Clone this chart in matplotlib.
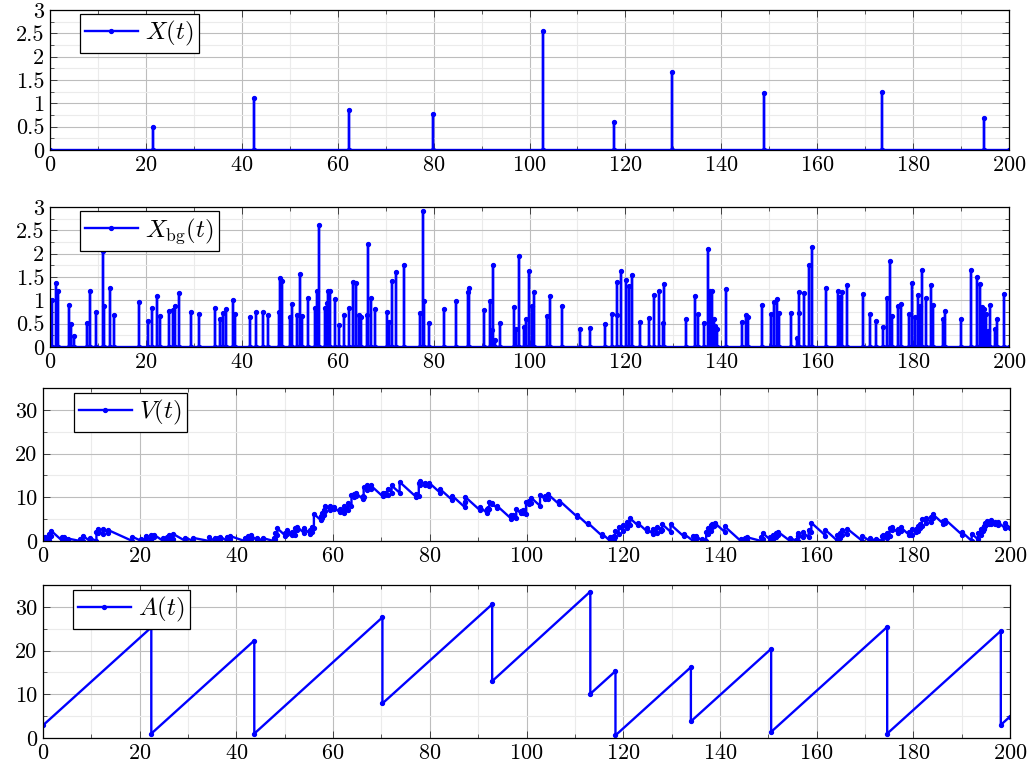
import matplotlib
matplotlib.use("Agg")
import matplotlib.pyplot as plt
from matplotlib.ticker import MultipleLocator, FixedLocator
import numpy as np

plt.rcParams['font.family'] = 'serif'
plt.rcParams['font.serif'] = ['cmr10', 'DejaVu Serif']
plt.rcParams['mathtext.fontset'] = 'cm'
plt.rcParams['axes.formatter.use_mathtext'] = True

# ---------------- data ----------------
# X(t): update arrivals (time, size)
x_times = [21.4, 42.5, 62.3, 79.9, 102.8, 117.6, 129.8, 148.9, 173.5, 194.7]
x_sizes = [0.49, 1.11, 0.85, 0.77, 2.54, 0.59, 1.67, 1.22, 1.25, 0.69]

# X_bg(t): background arrivals (time, size)
xbg_times = [0.45, 1.2, 1.75, 3.96, 4.4, 5.07, 7.72, 8.27, 9.66, 11.05, 11.3, 12.44, 13.35,
             18.49, 20.37, 21.27, 22.38, 22.87, 24.89, 25.58, 26.07, 26.83, 29.47, 31.07,
             34.38, 35.48, 36.12, 36.7, 38.1, 38.68, 41.7, 43.05, 44.35, 45.4, 47.72, 48.02,
             48.48, 50.12, 50.47, 51.58, 52.21, 52.62, 53.88, 55.2, 55.6, 56.03, 57.42, 57.7,
             58.04, 58.4, 59.37, 60.2, 61.38, 62.28, 63.12, 63.8, 64.37, 64.79, 66.1, 66.32,
             66.94, 67.78, 70.28, 70.7, 71.26, 72.09, 73.76, 77.16, 77.72, 78.07, 79.11, 82.17,
             84.6, 87.24, 87.3, 90.44, 91.83, 92.1, 92.3, 92.8, 93.92, 96.84, 97.25, 97.88,
             98.78, 99.2, 99.9, 100.45, 100.9, 103.75, 104.35, 106.78, 110.46, 112.64, 115.68,
             117.2, 118.2, 118.35, 119.07, 120.03, 120.8, 121.45, 123.04, 124.9, 126.06, 126.94,
             127.77, 128.06, 132.55, 134.5, 135.07, 136.32, 137.16, 137.57, 138.06, 138.4,
             138.76, 139.04, 140.98, 144.32, 145.15, 145.64, 148.56, 150.43, 150.92, 151.54,
             151.96, 154.53, 155.78, 156.13, 156.2, 157.18, 158.36, 158.91, 161.83, 164.27,
             164.8, 165.2, 166.29, 169.48, 171.01, 172.26, 173.79, 174.49, 175.11, 175.6,
             176.85, 177.4, 179.21, 179.76, 180.46, 181.0, 181.4, 181.79, 182.7, 183.66,
             184.08, 186.17, 186.65, 190.06, 192.07, 193.4, 193.9, 194.4, 194.8, 195.2, 195.7,
             196.1, 197.0, 197.6, 198.96]
xbg_sizes = [1.0, 1.38, 1.2, 0.89, 0.49, 0.23, 0.52, 1.21, 0.74, 2.06, 0.87, 1.26, 0.68,
             0.96, 0.56, 0.84, 1.09, 0.66, 0.78, 0.79, 0.87, 1.16, 0.74, 0.71,
             0.84, 0.61, 0.73, 0.82, 1.01, 0.71, 0.65, 0.75, 0.76, 0.68, 0.75, 1.48,
             1.41, 0.64, 0.92, 0.68, 1.56, 0.66, 1.06, 0.84, 1.19, 2.61, 0.84, 0.94,
             1.2, 1.21, 1.03, 0.48, 0.69, 0.84, 1.4, 1.37, 0.68, 0.64, 0.68, 2.21,
             1.05, 0.82, 0.76, 0.53, 1.41, 1.61, 1.75, 0.73, 2.92, 0.98, 0.52, 0.82,
             0.98, 1.17, 1.27, 0.79, 0.98, 0.36, 1.75, 0.14, 0.51, 0.86, 0.39, 1.96,
             0.43, 0.6, 1.63, 0.88, 1.17, 0.66, 1.1, 0.88, 0.39, 0.4, 0.5,
             0.7, 0.68, 1.39, 1.63, 1.44, 1.31, 1.54, 0.53, 0.63, 1.11, 1.19,
             0.51, 1.34, 0.6, 1.1, 0.7, 0.52, 2.09, 1.19, 1.2, 0.6,
             0.44, 0.39, 1.25, 0.54, 0.69, 0.65, 0.91, 0.7, 0.97, 1.02,
             0.72, 0.73, 0.2, 1.17, 0.72, 1.15, 1.76, 2.15, 1.27, 1.2,
             1.08, 1.17, 1.33, 1.13, 0.71, 0.56, 0.42, 1.04, 1.85, 0.67,
             0.88, 0.92, 0.7, 1.37, 0.64, 1.12, 0.87, 1.65, 1.05, 1.33,
             0.89, 0.59, 0.77, 0.6, 1.65, 1.51, 1.35, 0.86, 0.81, 0.7, 0.34,
             0.9, 0.38, 0.59, 1.14]

# V(t): workload, sampled just before / just after every arrival
v_times = [0.45, 1.2, 1.75, 3.96, 4.4, 5.07, 7.72, 8.27, 9.66, 11.05, 11.3, 12.44, 13.35,
           18.49, 20.37, 21.27, 21.4, 22.38, 22.87, 24.89, 25.58, 26.07, 26.83, 29.47, 31.07,
           34.38, 35.48, 36.12, 36.7, 38.1, 38.68, 41.7, 42.5, 43.05, 44.35, 45.4, 47.72, 48.02,
           48.48, 50.12, 50.47, 51.58, 52.21, 52.62, 53.88, 55.2, 55.6, 56.03, 57.42, 57.7,
           58.04, 58.4, 59.37, 60.2, 61.38, 62.28, 62.3, 63.12, 63.8, 64.37, 64.79, 66.1, 66.32,
           66.94, 67.78, 70.28, 70.7, 71.26, 72.09, 73.76, 77.16, 77.72, 78.07, 79.11, 79.9,
           82.17, 84.6, 87.24, 87.3, 90.44, 91.83, 92.1, 92.3, 92.8, 93.92, 96.84, 97.25, 97.88,
           98.78, 99.2, 99.9, 100.45, 100.9, 102.8, 103.75, 104.35, 106.78, 110.46, 112.64,
           115.68, 117.2, 117.6, 118.2, 118.35, 119.07, 120.03, 120.8, 121.45, 123.04, 124.9,
           126.06, 126.94, 127.77, 128.06, 129.8, 132.55, 134.5, 135.07, 136.32, 137.16,
           137.57, 138.06, 138.4, 138.76, 139.04, 140.98, 144.32, 145.15, 145.64, 148.56,
           148.9, 150.43, 150.92, 151.54, 151.96, 154.53, 155.78, 156.13, 156.2, 157.18,
           158.36, 158.91, 161.83, 164.27, 164.8, 165.2, 166.29, 169.48, 171.01, 172.26,
           173.5, 173.79, 174.49, 175.11, 175.6, 176.85, 177.4, 179.21, 179.76, 180.46,
           181.0, 181.4, 181.79, 182.7, 183.66, 184.08, 186.17, 186.65, 190.06, 192.07,
           193.4, 193.9, 194.4, 194.7, 194.8, 195.2, 195.7, 196.1, 197.0, 197.6, 198.96]
v_before = [0, 0.25, 1.08, 0.07, 0.52, 0.34, 0, 0, 0, 0, 1.81, 1.54, 1.89,
            0, 0, 0, 0.71, 0.22, 0.82, 0, 0.09, 0.39, 0.50, 0, 0,
            0, 0, 0, 0.15, 0, 0.43, 0, 0, 0.56, 0.01, 0, 0, 0.45,
            1.47, 1.24, 1.53, 1.34, 1.39, 2.54, 1.94, 1.68, 2.12, 2.88, 4.81, 5.37,
            5.97, 6.81, 7.05, 7.25, 6.55, 6.34, 7.16, 7.19, 7.91, 10.03, 10.29, 9.62, 10.08,
            11.67, 11.88, 10.20, 10.54, 10.51, 11.09, 11.03, 10.10, 10.27, 12.84, 12.78, 12.51,
            11.01, 9.40, 7.74, 8.85, 6.98, 6.38, 7.09, 7.25, 8.5, 7.52, 5.11, 5.56, 5.32,
            6.38, 6.39, 6.29, 8.35, 8.78, 8.05, 9.64, 9.70, 8.37, 5.57, 3.78,
            1.14, 0.12, 0.42, 0.41, 0.94, 1.61, 2.28, 2.95, 3.61, 3.56, 2.23,
            1.70, 1.93, 2.29, 2.51, 2.11, 1.03, 0, 0.53, 0, 0,
            1.68, 2.38, 3.24, 3.48, 3.64, 2.09, 0, 0, 0.20, 0,
            0.57, 0.26, 0.47, 0.82, 1.42, 0, 0, 0, 1.10, 0.84,
            0.81, 2.02, 1.25, 0.08, 0.75, 1.43, 1.51, 0, 0, 0,
            0, 0.96, 0.68, 1.10, 2.46, 1.88, 2.21, 1.32, 1.47, 2.14,
            2.24, 2.96, 3.44, 4.18, 4.27, 5.18, 3.98, 4.09, 1.45, 0.04,
            0.36, 1.37, 2.22, 2.78, 3.37, 3.78, 3.98, 3.92, 3.92, 3.70, 2.93]
v_after = [1.0, 1.63, 2.28, 0.96, 1.01, 0.57, 0.52, 1.21, 0.74, 2.06, 2.68, 2.80, 2.57,
           0.96, 0.56, 0.84, 1.20, 1.31, 1.48, 0.78, 0.88, 1.26, 1.66, 0.74, 0.71,
           0.84, 0.61, 0.73, 0.97, 1.01, 1.14, 0.65, 1.11, 1.31, 0.77, 0.68, 0.75, 1.93,
           2.88, 1.88, 2.45, 2.02, 2.95, 3.20, 3.00, 2.52, 3.31, 6.2, 5.65, 6.31,
           7.17, 8.02, 8.08, 7.73, 7.24, 7.18, 8.01, 8.59, 10.6, 10.71, 10.93, 10.30, 12.29,
           12.72, 12.70, 10.96, 11.07, 11.92, 12.70, 13.5, 10.83, 13.19, 13.82, 13.30, 13.28,
           11.83, 10.38, 8.91, 10.12, 7.77, 7.36, 7.45, 9.0, 8.64, 8.03, 5.97, 5.95, 7.28,
           6.81, 6.99, 8.9, 9.23, 9.95, 10.59, 10.30, 10.80, 9.25, 5.96, 4.18,
           1.64, 0.82, 1.01, 1.09, 2.33, 3.24, 3.72, 4.26, 5.15, 4.09, 2.86,
           2.81, 3.12, 2.80, 3.85, 3.78, 1.63, 1.1, 1.23, 0.52, 2.09,
           2.87, 3.58, 3.84, 3.92, 4.03, 3.34, 0.54, 0.69, 0.85, 0.91,
           1.79, 0.96, 1.44, 1.84, 2.14, 0.73, 0.2, 1.17, 1.82, 1.99,
           2.57, 4.17, 2.52, 1.28, 1.83, 2.60, 2.84, 1.13, 0.71, 0.56,
           1.25, 1.38, 1.72, 2.95, 3.13, 2.76, 3.13, 2.02, 2.84, 2.78,
           3.36, 3.83, 5.09, 5.23, 5.60, 6.07, 4.57, 4.86, 2.05, 1.69,
           1.87, 2.72, 3.08, 3.47, 4.18, 4.48, 4.32, 4.82, 4.30, 4.29, 4.07]
v_start = 0.0
v_end = 3.03

# A(t): age process vertices
a_times = [0, 22.4, 22.4, 43.7, 43.7, 70.2, 70.2, 92.9, 92.9, 113.2, 113.2, 118.4, 118.4,
           134.0, 134.0, 150.6, 150.6, 174.6, 174.6, 198.1, 198.1, 200.0]
a_values = [2.9, 25.3, 1.0, 22.3, 1.0, 27.6, 7.9, 30.6, 13.0, 33.5, 10.1, 15.3, 0.6,
            16.2, 3.8, 20.4, 1.4, 25.4, 1.0, 24.5, 3.0, 4.9]

for a, b in [(xbg_times, xbg_sizes), (v_times, v_before), (v_times, v_after), (a_times, a_values), (x_times, x_sizes)]:
    if len(a) != len(b):
        raise ValueError(f"length mismatch {len(a)} vs {len(b)}")

# ---------------- helpers ----------------
BLUE = '#0000ff'
W, H = 1033, 773
fig = plt.figure(figsize=(W / 100, H / 100), dpi=100)


def add_ax(l, t, r, b):
    return fig.add_axes([l / W, 1 - b / H, (r - l) / W, (b - t) / H])


def stems(times, sizes):
    xs, ys = [0.0], [0.0]
    for t, s in zip(times, sizes):
        xs += [t, t, t]
        ys += [0.0, s, 0.0]
    xs.append(200.0)
    ys.append(0.0)
    return xs, ys


def style(ax, ymax, ymajor, yminor, ylabels):
    ax.set_xlim(0, 200)
    ax.set_ylim(0, ymax)
    ax.xaxis.set_major_locator(MultipleLocator(20))
    ax.xaxis.set_minor_locator(MultipleLocator(10))
    ax.yaxis.set_major_locator(FixedLocator(ymajor))
    ax.yaxis.set_minor_locator(MultipleLocator(yminor))
    ax.set_yticklabels(ylabels)
    ax.grid(which='major', color='#bdbdbd', lw=0.8)
    ax.grid(which='minor', color='#ebebeb', lw=0.8)
    ax.set_axisbelow(True)
    ax.tick_params(which='both', direction='in', top=True, right=True,
                   labelsize=16, pad=4, color='#404040')
    ax.tick_params(which='major', length=5, width=0.7)
    ax.tick_params(which='minor', length=3, width=0.6)
    for sp in ax.spines.values():
        sp.set_color('black')
        sp.set_linewidth(0.9)


def legend(ax, line, text, dx, dy, wpx, hpx):
    leg = ax.legend([line], [text], loc='upper left',
                    bbox_to_anchor=(dx / wpx, 1 - dy / hpx), borderaxespad=0,
                    fancybox=False, edgecolor='black', framealpha=1, fontsize=18,
                    handlelength=2.1, handletextpad=0.3, borderpad=0.2, numpoints=1)
    leg.get_frame().set_linewidth(0.9)


line_kw = dict(color=BLUE, lw=1.7, marker='o', markersize=2.8)

# Panel 1: X(t)
ax1 = add_ax(50, 10, 1009, 150)
xs, ys = stems(x_times, x_sizes)
l1, = ax1.plot(xs, ys, **line_kw)
style(ax1, 3, [0, 0.5, 1, 1.5, 2, 2.5, 3], 0.25, ['0', '0.5', '1', '1.5', '2', '2.5', '3'])
legend(ax1, l1, r'$X(t)$', 30, 4, 959, 140)

# Panel 2: X_bg(t)
ax2 = add_ax(50, 207, 1009, 347)
xs, ys = stems(xbg_times, xbg_sizes)
l2, = ax2.plot(xs, ys, **line_kw)
style(ax2, 3, [0, 0.5, 1, 1.5, 2, 2.5, 3], 0.25, ['0', '0.5', '1', '1.5', '2', '2.5', '3'])
legend(ax2, l2, r'$X_{\mathrm{bg}}(t)$', 30, 4, 959, 140)

# Panel 3: V(t)
ax3 = add_ax(43, 388, 1010, 541)
vx, vy = [0.0], [v_start]
for t, b, a in zip(v_times, v_before, v_after):
    vx += [t, t]
    vy += [b, a]
vx.append(200.0)
vy.append(v_end)
l3, = ax3.plot(vx, vy, **line_kw)
style(ax3, 35, [0, 10, 20, 30], 5, ['0', '10', '20', '30'])
legend(ax3, l3, r'$V(t)$', 31, 5, 967, 153)

# Panel 4: A(t)
ax4 = add_ax(43, 585, 1010, 738)
l4, = ax4.plot(a_times, a_values, **line_kw)
style(ax4, 35, [0, 10, 20, 30], 5, ['0', '10', '20', '30'])
legend(ax4, l4, r'$A(t)$', 30, 5, 967, 153)

fig.savefig('out.png', dpi=100)
